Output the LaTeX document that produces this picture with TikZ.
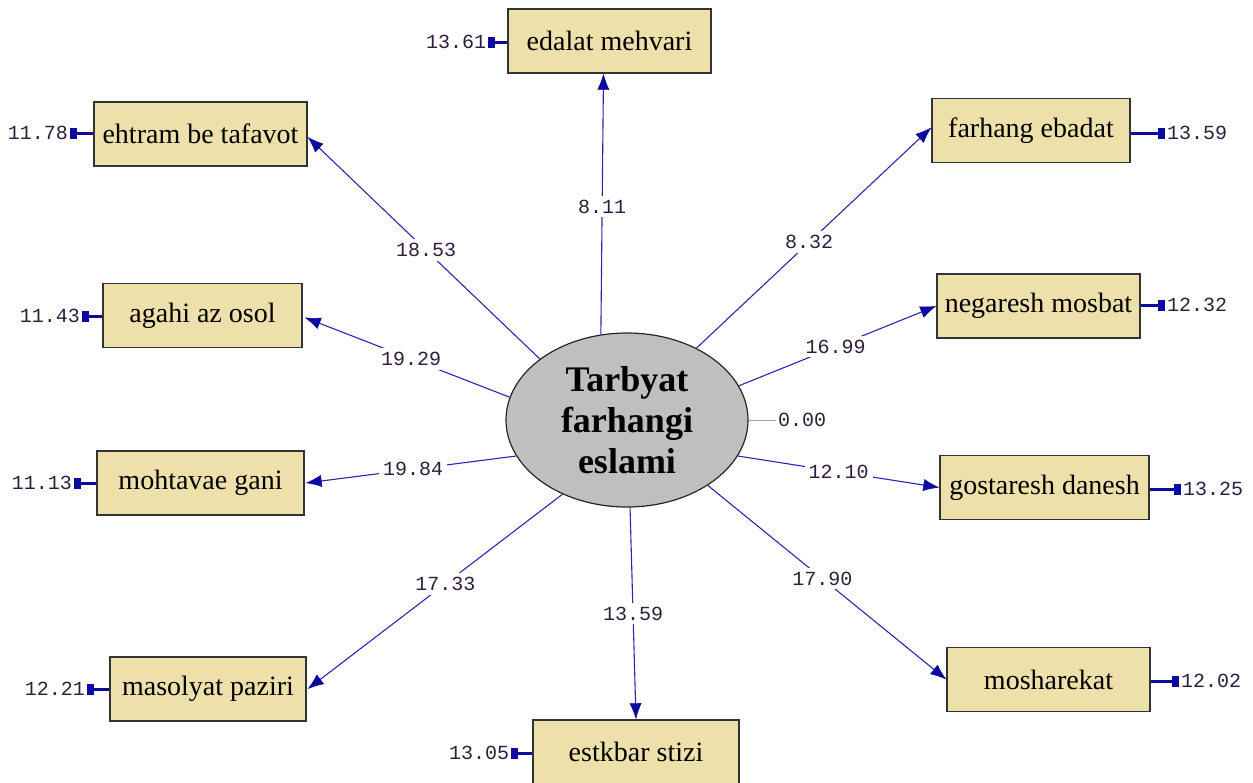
\documentclass[tikz,border=0pt]{standalone}
\usepackage{fontspec}
\setmainfont{Liberation Serif}
\newfontfamily\nummono{Liberation Mono}
\usetikzlibrary{shapes.geometric,arrows.meta}
\definecolor{pathblue}{RGB}{40,40,175}
\definecolor{tipblue}{RGB}{10,10,160}
\definecolor{boxfill}{RGB}{238,224,170}
\definecolor{numcol}{RGB}{45,30,60}
\tikzset{
  obsbox/.style={draw=black!80, line width=1.4pt, fill=boxfill, minimum height=64pt, inner sep=0pt,
    font=\fontsize{28}{30}\selectfont},
  latent/.style={ellipse, draw=black!85, line width=1.2pt, fill=black!25, minimum width=242pt,
    minimum height=174pt, inner sep=0pt, align=center,
    font=\fontsize{36}{41}\selectfont\bfseries},
  numlbl/.style={text=numcol, font=\nummono\fontsize{20}{22}\selectfont, inner sep=2pt},
  pathlbl/.style={numlbl, fill=white, inner sep=4pt},
  patharr/.style={draw=pathblue, line width=1.1pt,
    -{Latex[length=16pt,width=12pt,fill=tipblue,color=tipblue,line width=0.5pt]}},
  errarr/.style={draw=tipblue, line width=3pt, {Rectangle[length=7pt,width=11pt]}-},
}
\begin{document}
\begin{tikzpicture}[x=1pt,y=-1pt]
\fill[white] (0,0) rectangle (1253,782);
\useasboundingbox (0,0) rectangle (1253,782);

\node[latent] (lat) at (627,420) {Tarbyat\\farhangi\\eslami};

\node[obsbox, minimum width=203pt] (edalat) at (609.5,41) {edalat mehvari};
\node[obsbox, minimum width=213pt] (ehtram) at (200.5,134) {ehtram be tafavot};
\node[obsbox, minimum width=198pt] (farhang) at (1031,130.5) {farhang ebadat};
\node[obsbox, minimum width=199pt] (agahi) at (202.5,315.5) {agahi az osol};
\node[obsbox, minimum width=203pt] (negaresh) at (1038.5,306) {negaresh mosbat};
\node[obsbox, minimum width=207pt] (mohtavae) at (200.5,483) {mohtavae gani};
\node[obsbox, minimum width=209pt] (gostaresh) at (1044.5,487.5) {gostaresh danesh};
\node[obsbox, minimum width=196pt] (masolyat) at (208,689) {masolyat paziri};
\node[obsbox, minimum width=203pt] (mosharekat) at (1048.5,679.5) {mosharekat};
\node[obsbox, minimum width=206pt] (estkbar) at (636,752) {estkbar stizi};

% paths
\draw[patharr] (lat.107.5) -- node[pathlbl, pos=0.49] (l1) {8.11} ([xshift=-6pt]edalat.south);
\draw[patharr] (lat.145.6) -- node[pathlbl, pos=0.49] (l2) {18.53} ([yshift=-3pt]ehtram.east);
\draw[patharr] (lat.46.5) -- node[pathlbl, pos=0.48] (l3) {8.32} ([yshift=3pt]farhang.west);
\draw[patharr] (lat.169) -- node[pathlbl, pos=0.48] (l4) {19.29} ([xshift=2pt,yshift=-2pt]agahi.east);
\draw[patharr] (lat.17) -- node[pathlbl, pos=0.49] (l5) {16.99} (negaresh.west);
\draw[patharr] (lat.198.3) -- node[pathlbl, pos=0.49] (l6) {19.84} ([xshift=1pt]mohtavae.east);
\draw[patharr] (lat.342.2) -- node[pathlbl, pos=0.5] (l7) {12.10} (gostaresh.west);
\draw[patharr] (lat.229) -- node[pathlbl, pos=0.46] (l8) {17.33} ([xshift=1pt]masolyat.east);
\draw[patharr] (lat.272) -- node[pathlbl, pos=0.5] (l9) {13.59} (estkbar.north);
\draw[patharr] (lat.321.9) -- node[pathlbl, pos=0.48] (l10) {17.90} (mosharekat.west);

% latent variance
\node[numlbl] (v0) at (802,420) {0.00};
\draw[black!35, line width=1pt] (lat.east) -- (v0.west);

% error variances
\node[numlbl] (e1) at (456,42) {13.61};
\node[numlbl] (e2) at (38,133) {11.78};
\node[numlbl] (e3) at (1197,133) {13.59};
\node[numlbl] (e4) at (50,316) {11.43};
\node[numlbl] (e5) at (1197,305) {12.32};
\node[numlbl] (e6) at (42,483) {11.13};
\node[numlbl] (e7) at (1213,489) {13.25};
\node[numlbl] (e8) at (55,689) {12.21};
\node[numlbl] (e9) at (1211,681) {12.02};
\node[numlbl] (e10) at (479,753) {13.05};

\draw[errarr] (e1.east) -- (edalat.west |- e1.east);
\draw[errarr] (e2.east) -- (ehtram.west |- e2.east);
\draw[errarr] (e3.west) -- (farhang.east |- e3.west);
\draw[errarr] (e4.east) -- (agahi.west |- e4.east);
\draw[errarr] (e5.west) -- (negaresh.east |- e5.west);
\draw[errarr] (e6.east) -- (mohtavae.west |- e6.east);
\draw[errarr] (e7.west) -- (gostaresh.east |- e7.west);
\draw[errarr] (e8.east) -- (masolyat.west |- e8.east);
\draw[errarr] (e9.west) -- (mosharekat.east |- e9.west);
\draw[errarr] (e10.east) -- (estkbar.west |- e10.east);
\end{tikzpicture}
\end{document}
